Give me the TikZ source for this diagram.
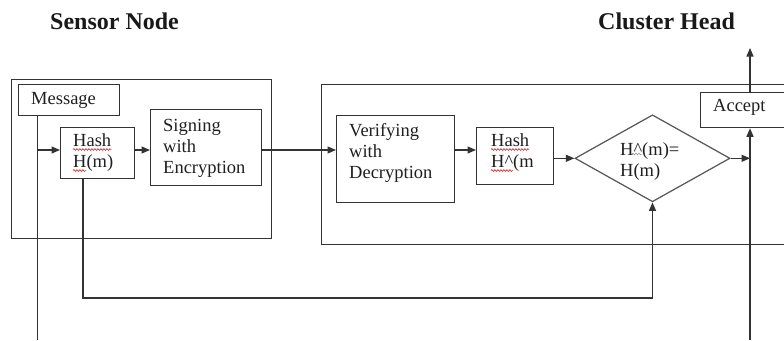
\documentclass[tikz,border=0pt]{standalone}
\usepackage{fontspec}
\setmainfont{Liberation Serif}
\usetikzlibrary{arrows.meta,shapes.geometric,decorations.pathmorphing}

\tikzset{
  ln/.style={draw=black!80, line width=1.25pt},
  box/.style={ln, rectangle, inner sep=0pt, anchor=north west},
  arr/.style={ln, -{Triangle[length=8.5pt,width=7pt]}},
  txt/.style={anchor=base west, inner sep=0pt, font=\fontsize{18.5}{21}\selectfont, text=black!88},
  ttl/.style={anchor=base west, inner sep=0pt, font=\fontsize{24}{27}\selectfont\bfseries, text=black!90},
  squig/.style={draw=red!80!black, line width=0.5pt, decorate,
    decoration={snake, segment length=3pt, amplitude=0.9pt}},
}

\begin{document}
\begin{tikzpicture}[x=1pt,y=-1pt]
\useasboundingbox (0,0) rectangle (784,340);
\clip (0,0) rectangle (784,340);

% titles
\node[ttl] (tsn) at (50,29) {Sensor Node};
\node[ttl] (tch) at (598,29) {Cluster Head};

% enclosing frames
\node[box, minimum width=260.5pt, minimum height=159.5pt] (sensor) at (10.5,78.5) {};
\node[box, minimum width=480pt, minimum height=160pt] (cluster) at (321,84) {};

% sensor node blocks
\node[box, minimum width=101pt, minimum height=30.5pt] (msg) at (17.5,84) {};
\node[txt] (msgt) at (31,104.5) {Message};

\node[box, minimum width=74pt, minimum height=51pt] (hasha) at (60,127) {};
\node[txt] (hashat) at (73,146.5) {Hash};
\node[txt] (hashbt) at (73,167.5) {H(m)};

\node[box, minimum width=111pt, minimum height=76pt] (sign) at (150,109) {};
\node[txt] (sign1) at (163,131) {Signing};
\node[txt] (sign2) at (163,152) {with};
\node[txt] (sign3) at (163,173) {Encryption};

% cluster head blocks
\node[box, minimum width=118pt, minimum height=87pt] (verif) at (336,115) {};
\node[txt] (ver1) at (349,136) {Verifying};
\node[txt] (ver2) at (349,157) {with};
\node[txt] (ver3) at (349,178) {Decryption};

\node[box, minimum width=77pt, minimum height=57pt] (hashc) at (476,127) {};
\node[txt] (hashct) at (491,146.5) {Hash};
\node[txt] (hashdt) at (491,167.5) {H\textasciicircum(m};

\node[ln, diamond, inner sep=0pt, minimum width=155pt, minimum height=87pt, draw=black!65] (dia) at (652.5,158.3) {};
\node[txt] (dia1) at (620,155) {H\textasciicircum(m)=};
\node[txt] (dia2) at (620,176) {H(m)};

\node[box, minimum width=100pt, minimum height=35.5pt] (acc) at (700,91.5) {};
\node[txt] (acct) at (713,111) {Accept};

% spelling marks under the hash labels
\draw[squig] ([yshift=-3pt]hashat.base west) -- ([yshift=-3pt]hashat.base east);
\draw[squig] ([yshift=-3pt]hashbt.base west) -- ++(13,0);
\draw[squig] ([yshift=-3pt]hashct.base west) -- ([yshift=-3pt]hashct.base east);
\draw[squig] ([yshift=-3pt]hashdt.base west) -- ++(22,0);
\draw[squig, draw=black!45] ([xshift=12pt,yshift=1pt]dia1.base west) -- ++(10,0);

% helper points for the connector routes
\coordinate (mdown) at (37.5,340);
\coordinate (flow) at (0,150);
\coordinate (hb) at (83,298);
\coordinate (bus) at (750,340);
\coordinate (out) at (750,48);

% connectors
\draw[ln] (msg.south -| mdown) -- (mdown);
\draw[arr] (mdown |- flow) -- (hasha.west |- flow);
\draw[arr] (hasha.east |- flow) -- (sign.west |- flow);
\draw[arr] (sign.east |- flow) -- (verif.west |- flow);
\draw[arr] (verif.east |- flow) -- (hashc.west |- flow);
\draw[arr] (hashc.east |- dia.west) -- (dia.west);
\draw[arr] (dia.east) -- (dia.east -| bus);
\draw[arr] (bus) -- (acc.south -| bus);
\draw[arr] (acc.north -| out) -- (out);
\draw[arr] (hasha.south -| hb) -- (hb) -- (hb -| dia.south) -- (dia.south);
\end{tikzpicture}
\end{document}
